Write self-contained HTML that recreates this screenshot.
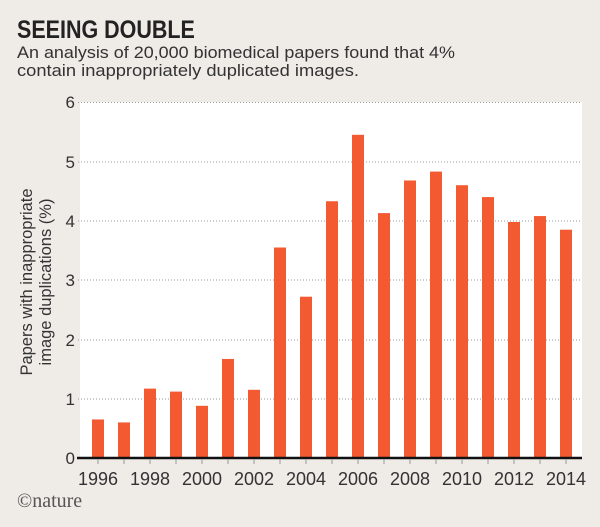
<!DOCTYPE html>
<html><head><style>
body{margin:0;width:600px;height:522px;background:#efebe7;overflow:hidden;font-family:"Liberation Sans",sans-serif;}
</style></head><body>
<svg width="600" height="522" xmlns="http://www.w3.org/2000/svg" font-family="Liberation Sans, sans-serif">
<rect width="600" height="522" fill="#efebe7"/>
<text x="0" y="38" font-size="25" font-weight="bold" fill="#222" transform="translate(17,0) scale(0.86,1)">SEEING DOUBLE</text>
<text x="17" y="58" font-size="17" fill="#333" textLength="438" lengthAdjust="spacingAndGlyphs">An analysis of 20,000 biomedical papers found that 4%</text>
<text x="17" y="76" font-size="17" fill="#333" textLength="342" lengthAdjust="spacingAndGlyphs">contain inappropriately duplicated images.</text>
<rect x="80" y="102" width="502" height="356" fill="#fff"/>
<g stroke="#999" stroke-width="1" stroke-dasharray="1,2">
<line x1="78" x2="582" y1="102.5" y2="102.5"/>
<line x1="78" x2="582" y1="162" y2="162"/>
<line x1="78" x2="582" y1="221" y2="221"/>
<line x1="78" x2="582" y1="280" y2="280"/>
<line x1="78" x2="582" y1="340" y2="340"/>
<line x1="78" x2="582" y1="399" y2="399"/>
</g>
<g font-size="17" fill="#333" text-anchor="end">
<text x="75" y="108">6</text><text x="75" y="168">5</text><text x="75" y="227">4</text>
<text x="75" y="286">3</text><text x="75" y="346">2</text><text x="75" y="405">1</text><text x="75" y="464">0</text>
</g>
<text transform="translate(32,282) rotate(-90)" font-size="16.5" fill="#333" text-anchor="middle">Papers with inappropriate</text>
<text transform="translate(51,282) rotate(-90)" font-size="16.5" fill="#333" text-anchor="middle">image duplications (%)</text>
<g fill="#f45a32" id="bars"></g>
<line x1="77" x2="582" y1="458" y2="458" stroke="#111" stroke-width="2.5"/>
<g id="ticks" stroke="#999" stroke-width="1"></g>
<g font-size="18" fill="#333" text-anchor="middle" id="yrs"></g>
<text x="17" y="507" font-size="20" fill="#555" font-family="Liberation Serif, serif">©nature</text>
<script>
var v=[0.65,0.6,1.17,1.12,0.88,1.67,1.15,3.55,2.72,4.33,5.45,4.13,4.68,4.83,4.6,4.4,3.98,4.08,3.85];
var b=document.getElementById('bars'),t=document.getElementById('ticks'),y=document.getElementById('yrs'),ns='http://www.w3.org/2000/svg';
v.forEach(function(d,i){var cx=98+i*26,h=d*59.3;
var r=document.createElementNS(ns,'rect');r.setAttribute('x',cx-6);r.setAttribute('width',12);r.setAttribute('y',458-h);r.setAttribute('height',h);b.appendChild(r);
var l=document.createElementNS(ns,'line');l.setAttribute('x1',cx);l.setAttribute('x2',cx);l.setAttribute('y1',459);l.setAttribute('y2',464);t.appendChild(l);
if(i%2==0){var s=document.createElementNS(ns,'text');s.setAttribute('x',cx);s.setAttribute('y',485);s.textContent=1996+i;y.appendChild(s);}
});
</script>
</svg>
</body></html>
